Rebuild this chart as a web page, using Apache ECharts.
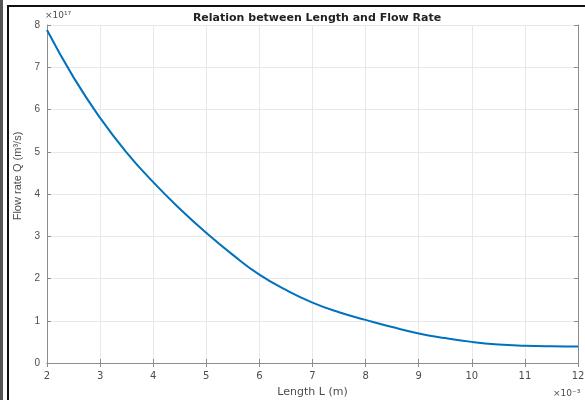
<!DOCTYPE html>
<html>
<head>
<meta charset="utf-8">
<script src="https://cdn.jsdelivr.net/npm/echarts@6/dist/echarts.min.js"></script>
<style>html,body{margin:0;padding:0;background:#fff;}#c{width:585px;height:400px;}</style>
</head>
<body>
<div id="c"></div>
<script>
// Length L (×10^-3 m)
var lengthL = [2, 2.5, 3, 3.5, 4, 4.5, 5, 5.5, 6, 6.5, 7, 7.5, 8, 8.5, 9, 9.5, 10, 10.5, 11, 11.5, 12];
// Flow rate Q (×10^17 m^3/s)
var flowQ = [7.88, 6.76, 5.80, 4.98, 4.28, 3.65, 3.08, 2.56, 2.09, 1.73, 1.43, 1.20, 1.02, 0.85, 0.70, 0.59, 0.50, 0.44, 0.41, 0.395, 0.39];
var titleText = 'Relation between Length and Flow Rate';
var xName = 'Length L (m)';
var yName = 'Flow rate Q (m\u00B3/s)';
var xExp = '\u00D710\u207B\u00B3';
var yExp = '\u00D710\u00B9\u2077';

var chart = echarts.init(document.getElementById('c'));
var pts = lengthL.map(function (v, i) { return [v, flowQ[i]]; });
var font = 'Liberation Sans, Arial, sans-serif';
var wfont = 'DejaVu Sans, sans-serif';
var axisCol = '#8c8c8c';
var labelCol = '#4d4d4d';
chart.setOption({
  animation: false,
  backgroundColor: '#fff',
  title: {
    text: titleText, left: 312, top: 8, textAlign: 'center',
    textStyle: { fontFamily: wfont, fontSize: 11, fontWeight: 'bold', color: '#222' }
  },
  grid: { left: 47, right: 7, top: 25, bottom: 37, outerBoundsMode: 'none', containLabel: false },
  xAxis: [{
    type: 'value', min: 2, max: 12, interval: 1,
    name: xName, nameLocation: 'middle', nameGap: 24,
    nameTextStyle: { fontFamily: wfont, fontSize: 11, color: labelCol },
    axisLine: { show: true, lineStyle: { color: axisCol, width: 1 } },
    axisTick: { show: true, inside: true, length: 4, lineStyle: { color: axisCol } },
    axisLabel: { fontFamily: wfont, fontSize: 10, color: labelCol, margin: 8 },
    splitLine: { show: true, lineStyle: { color: '#e8e8e8', width: 1 } }
  }, {
    type: 'value', min: 2, max: 12, interval: 1, position: 'top',
    axisLine: { show: true, lineStyle: { color: axisCol, width: 1 } },
    axisTick: { show: true, inside: true, length: 4, lineStyle: { color: axisCol } },
    axisLabel: { show: false }, splitLine: { show: false }
  }],
  yAxis: [{
    type: 'value', min: 0, max: 8, interval: 1,
    axisLine: { show: true, lineStyle: { color: axisCol, width: 1 } },
    axisTick: { show: true, inside: true, length: 4, lineStyle: { color: axisCol } },
    axisLabel: { fontFamily: font, fontSize: 10, color: labelCol, margin: 7 },
    splitLine: { show: true, lineStyle: { color: '#e8e8e8', width: 1 } }
  }, {
    type: 'value', min: 0, max: 8, interval: 1, position: 'right',
    axisLine: { show: true, lineStyle: { color: axisCol, width: 1 } },
    axisTick: { show: true, inside: true, length: 4, lineStyle: { color: axisCol } },
    axisLabel: { show: false }, splitLine: { show: false }
  }],
  series: [{
    type: 'line', data: pts, smooth: true, showSymbol: false,
    lineStyle: { color: '#0072BD', width: 2 }
  }],
  graphic: [
    { type: 'rect', shape: { x: 0, y: 0, width: 3, height: 400 }, style: { fill: '#555' } },
    { type: 'rect', shape: { x: 7, y: 5, width: 2, height: 395 }, style: { fill: '#111' } },
    { type: 'rect', shape: { x: 7, y: 5, width: 578, height: 2 }, style: { fill: '#111' } },
    { type: 'text', x: 18, y: 176, rotation: Math.PI / 2,
      style: { text: yName, font: '11px ' + font, fill: labelCol, align: 'center', verticalAlign: 'middle' } },
    { type: 'text', left: 45, top: 11, style: { text: yExp, font: '9px ' + wfont, fill: labelCol } },
    { type: 'text', left: 553, top: 389, style: { text: xExp, font: '9px ' + wfont, fill: labelCol } }
  ]
});
</script>
</body>
</html>
